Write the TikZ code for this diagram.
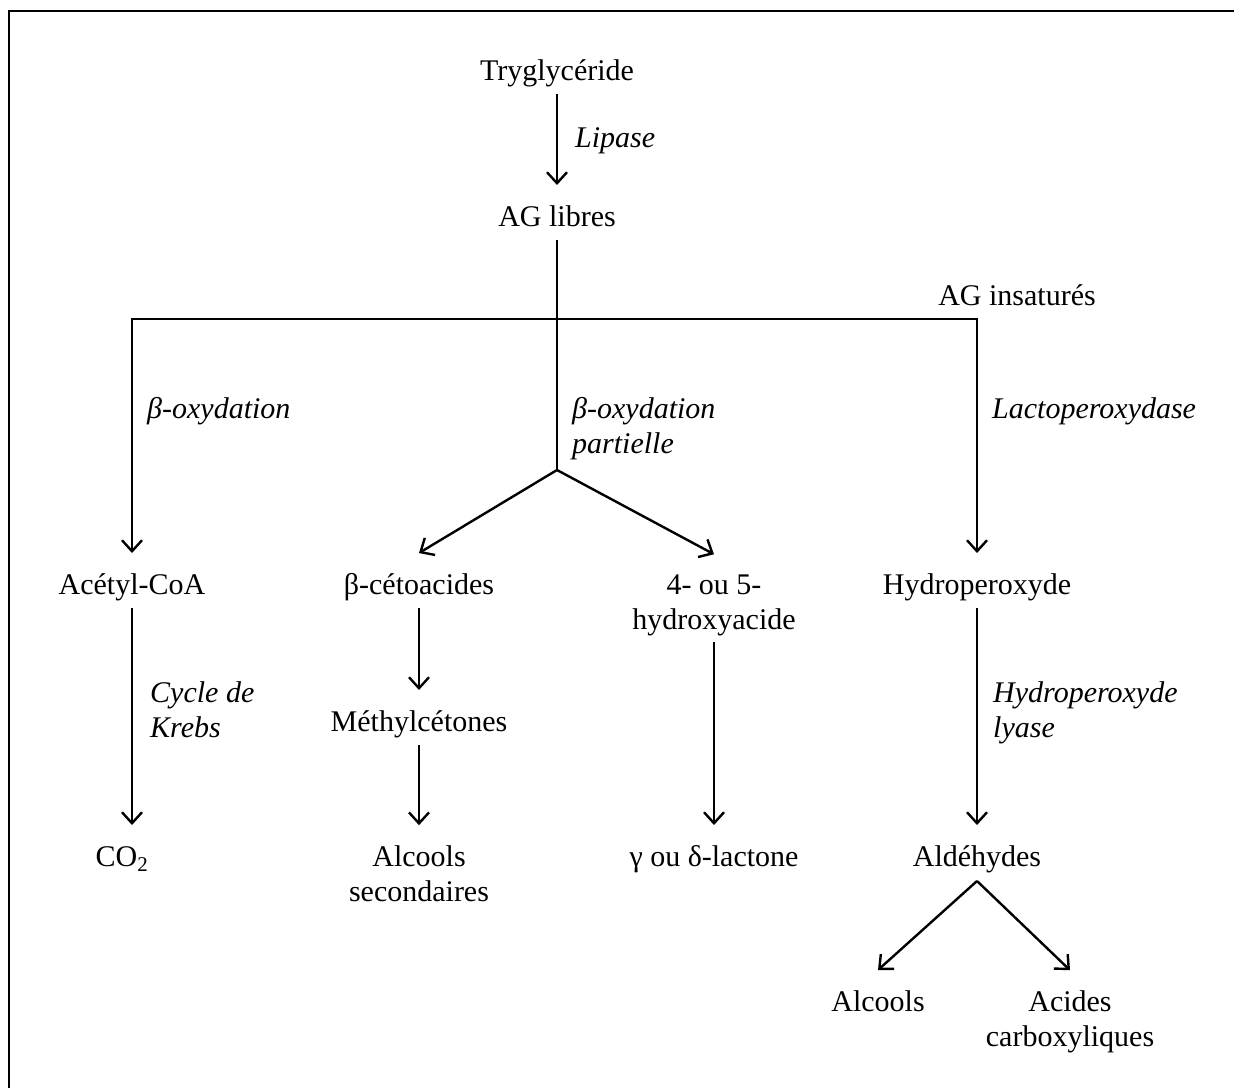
\documentclass[tikz,border=0pt]{standalone}
\usepackage{fontspec}
\setmainfont{Liberation Serif}
\usetikzlibrary{arrows.meta}

\tikzset{
  prod/.style={inner sep=0pt, outer ysep=20pt, anchor=base, align=center},
  one/.style={prod, text height=21pt, text depth=7pt},
  enz/.style={inner sep=0pt, anchor=base west, align=left,
    font=\fontsize{30}{35}\selectfont\itshape},
  tip/.style={-{Straight Barb[length=11pt,width=20pt]}, line width=2.4pt},
  arr/.style={tip, shorten <=-13pt}
}

\begin{document}
\begin{tikzpicture}[x=1pt, y=-1pt, font=\fontsize{30}{35}\selectfont]
  \useasboundingbox (0,0) rectangle (1234,1088);
  \draw[line width=2.5pt] (9,1088) -- (9,11) -- (1234,11);   % frame, only top and left

  % products (two line nodes sit on their last line)
  \node[one] (tri) at (557,80) {Tryglycéride};
  \node[one] (ag) at (557,226) {AG libres};
  \node[one] (agi) at (1017,305) {AG insaturés};
  \node[one] (acetyl) at (132,594) {Acétyl-CoA};
  \node[one] (ceto) at (419,594) {β-cétoacides};
  \node[prod] (hydroxy) at (714,629) {4- ou 5-\\hydroxyacide};
  \node[one] (hydro) at (977,594) {Hydroperoxyde};
  \node[one] (methyl) at (419,731) {Méthylcétones};
  \node[one] (co) at (122,866) {CO\textsubscript{2}};
  \node[prod] (alc) at (419,901) {Alcools\\secondaires};
  \node[one] (lactone) at (714,866) {γ ou δ-lactone};
  \node[one] (ald) at (977,866) {Aldéhydes};
  \node[one] (alcools) at (878,1011) {Alcools};
  \node[prod] (acides) at (1070,1046) {Acides\\carboxyliques};

  % enzymes and pathways
  \node[enz] (lip) at (575,147) {Lipase};
  \node[enz] (box) at (147,418) {β-oxydation};
  \node[enz] (part) at (572,453) {β-oxydation\\partielle};
  \node[enz] (lacto) at (992,418) {Lactoperoxydase};
  \node[enz] (krebs) at (150,737) {Cycle de\\Krebs};
  \node[enz] (lyase) at (993,737) {Hydroperoxyde\\lyase};

  \coordinate (bar) at (557,319);      % horizontal split
  \coordinate (fork) at (557,470);     % beta-oxydation partielle
  \coordinate (aldfork) at (977,881);  % under Aldehydes

  \draw[arr] (tri.south) -- (ag.north);
  \draw[line width=2.4pt, shorten <=-13pt] (ag.south) -- (fork);
  \draw[tip] (bar) -| (acetyl.north);
  \draw[tip] (bar) -| (hydro.north);
  \draw[tip] (fork) -- (ceto.north);
  \draw[tip] (fork) -- (hydroxy.north);
  \draw[arr] (acetyl.south) -- (acetyl.south |- co.north);
  \draw[arr] (ceto.south) -- (methyl.north);
  \draw[arr] (methyl.south) -- (alc.north);
  \draw[arr] (hydroxy.south) -- (lactone.north);
  \draw[arr] (hydro.south) -- (ald.north);
  \draw[tip] (aldfork) -- (alcools.north);
  \draw[tip] (aldfork) -- (acides.north);
\end{tikzpicture}
\end{document}
